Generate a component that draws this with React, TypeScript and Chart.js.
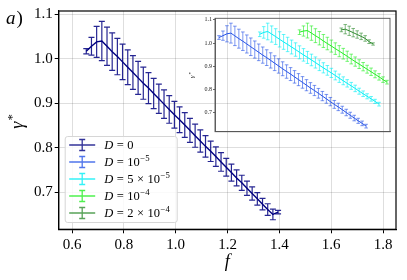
import React, { useEffect, useRef } from "react";
import { Chart, registerables } from "chart.js";
Chart.register(...registerables);

// ---------- data ----------
const seriesLabels = ["D = 0", "D = 10^−5", "D = 5 × 10^−5", "D = 10^−4", "D = 2 × 10^−4"];
const seriesColors = ["#000080", "#2452e6", "#00eef5", "#22ee22", "#2e8b2e"];

const mainXTicks = [0.6, 0.8, 1.0, 1.2, 1.4, 1.6, 1.8];
const mainYTicks = [0.7, 0.8, 0.9, 1.0, 1.1];
const insetYTicks = [0.7, 0.8, 0.9, 1.0, 1.1];
const mainXRange = [0.5486, 1.85];
const mainYRange = [0.6165, 1.1074];
const insetXRange = [0.62, 1.5];
const insetYRange = [0.617, 1.107];

// D = 0 (main panel)
const fD0 = [0.655, 0.675, 0.695, 0.715, 0.735, 0.755, 0.775, 0.795, 0.815, 0.835, 0.855, 0.875, 0.895, 0.915, 0.935, 0.955, 0.975, 0.995, 1.015, 1.035, 1.055, 1.075, 1.095, 1.115, 1.135, 1.155, 1.175, 1.195, 1.215, 1.235, 1.255, 1.275, 1.295, 1.315, 1.335, 1.355, 1.375, 1.395];
const gD0 = [1.017, 1.028, 1.038, 1.040, 1.028, 1.016, 1.005, 0.993, 0.981, 0.969, 0.957, 0.945, 0.934, 0.922, 0.910, 0.898, 0.886, 0.874, 0.863, 0.851, 0.839, 0.827, 0.815, 0.803, 0.792, 0.780, 0.768, 0.756, 0.744, 0.732, 0.721, 0.709, 0.697, 0.685, 0.673, 0.661, 0.650, 0.655];
const eD0 = [0.006, 0.020, 0.035, 0.044, 0.043, 0.042, 0.041, 0.040, 0.039, 0.038, 0.037, 0.036, 0.035, 0.034, 0.033, 0.032, 0.031, 0.030, 0.029, 0.028, 0.027, 0.026, 0.025, 0.024, 0.023, 0.022, 0.021, 0.020, 0.019, 0.018, 0.017, 0.016, 0.015, 0.014, 0.013, 0.013, 0.012, 0.004];

// D = 1e-5 (inset)
const fD1 = [0.64, 0.66, 0.68, 0.70, 0.72, 0.74, 0.76, 0.78, 0.80, 0.82, 0.84, 0.86, 0.88, 0.90, 0.92, 0.94, 0.96, 0.98, 1.00, 1.02, 1.04, 1.06, 1.08, 1.10, 1.12, 1.14, 1.16, 1.18, 1.20, 1.22, 1.24, 1.26, 1.28, 1.30, 1.32, 1.34, 1.36, 1.38];
const gD1 = [1.024, 1.032, 1.040, 1.043, 1.031, 1.019, 1.008, 0.996, 0.984, 0.972, 0.960, 0.948, 0.937, 0.925, 0.913, 0.901, 0.889, 0.877, 0.866, 0.854, 0.842, 0.830, 0.818, 0.806, 0.795, 0.783, 0.771, 0.759, 0.747, 0.735, 0.724, 0.712, 0.700, 0.688, 0.676, 0.664, 0.653, 0.641];
const eD1 = [0.008, 0.020, 0.035, 0.043, 0.042, 0.041, 0.040, 0.039, 0.038, 0.037, 0.036, 0.035, 0.034, 0.033, 0.032, 0.031, 0.030, 0.029, 0.028, 0.027, 0.026, 0.025, 0.024, 0.023, 0.022, 0.021, 0.020, 0.019, 0.018, 0.017, 0.016, 0.015, 0.014, 0.013, 0.012, 0.011, 0.010, 0.008];

// D = 5e-5 (inset)
const fD2 = [0.845, 0.865, 0.885, 0.905, 0.925, 0.945, 0.965, 0.985, 1.005, 1.025, 1.045, 1.065, 1.085, 1.105, 1.125, 1.145, 1.165, 1.185, 1.205, 1.225, 1.245, 1.265, 1.285, 1.305, 1.325, 1.345, 1.365, 1.385, 1.405, 1.425, 1.445];
const gD2 = [1.038, 1.046, 1.050, 1.039, 1.028, 1.016, 1.005, 0.994, 0.983, 0.972, 0.960, 0.949, 0.938, 0.927, 0.916, 0.904, 0.893, 0.882, 0.871, 0.860, 0.848, 0.837, 0.826, 0.815, 0.804, 0.792, 0.781, 0.770, 0.759, 0.748, 0.736];
const eD2 = [0.010, 0.025, 0.036, 0.035, 0.034, 0.033, 0.032, 0.031, 0.030, 0.029, 0.028, 0.027, 0.026, 0.025, 0.024, 0.023, 0.022, 0.021, 0.020, 0.019, 0.018, 0.017, 0.016, 0.015, 0.014, 0.013, 0.012, 0.011, 0.010, 0.009, 0.008];

// D = 1e-4 (inset)
const fD3 = [1.045, 1.065, 1.085, 1.105, 1.125, 1.145, 1.165, 1.185, 1.205, 1.225, 1.245, 1.265, 1.285, 1.305, 1.325, 1.345, 1.365, 1.385, 1.405, 1.425, 1.445, 1.465, 1.485];
const gD3 = [1.047, 1.052, 1.054, 1.043, 1.032, 1.021, 1.009, 0.998, 0.987, 0.976, 0.965, 0.954, 0.943, 0.931, 0.920, 0.909, 0.898, 0.887, 0.876, 0.865, 0.854, 0.842, 0.831];
const eD3 = [0.010, 0.022, 0.032, 0.031, 0.030, 0.029, 0.028, 0.027, 0.026, 0.025, 0.024, 0.023, 0.022, 0.021, 0.020, 0.019, 0.018, 0.017, 0.016, 0.015, 0.014, 0.012, 0.008];

// D = 2e-4 (inset)
const fD4 = [1.255, 1.275, 1.295, 1.315, 1.335, 1.355, 1.375, 1.395, 1.415];
const gD4 = [1.057, 1.060, 1.053, 1.045, 1.037, 1.029, 1.020, 1.006, 0.996];
const eD4 = [0.008, 0.020, 0.020, 0.018, 0.016, 0.014, 0.012, 0.008, 0.005];

// ---------- helpers ----------
const SERIF = "'Liberation Serif', 'DejaVu Serif', serif";

function pts(fs: number[], gs: number[]) {
  return fs.map((f, i) => ({ x: f, y: gs[i] }));
}

function hexA(hex: string, a: number) {
  const r = parseInt(hex.slice(1, 3), 16), g = parseInt(hex.slice(3, 5), 16), b = parseInt(hex.slice(5, 7), 16);
  return `rgba(${r},${g},${b},${a})`;
}

// draw "D = 5 × 10^−5" style math text; letters italic, part after ^ superscript
function drawMath(ctx: CanvasRenderingContext2D, text: string, x: number, y: number, size: number) {
  const [base, sup] = text.split("^");
  let cx = x;
  for (const ch of base) {
    const it = /[A-Za-z]/.test(ch);
    ctx.font = `${it ? "italic " : ""}${size}px ${SERIF}`;
    const w = ch === " " ? size * 0.28 : ctx.measureText(ch).width;
    if (ch !== " ") ctx.fillText(ch, cx, y);
    cx += w;
  }
  if (sup) {
    ctx.font = `${size * 0.7}px ${SERIF}`;
    ctx.fillText(sup, cx + 0.5, y - size * 0.42);
  }
}

const errorBarPlugin = {
  id: "errorBars",
  afterDatasetsDraw(chart: any) {
    const ctx = chart.ctx;
    const xs = chart.scales.x, ys = chart.scales.y;
    chart.data.datasets.forEach((ds: any) => {
      if (!ds.errors) return;
      ctx.save();
      ctx.strokeStyle = ds.errColor;
      ctx.lineWidth = ds.errWidth;
      const cap = ds.capHalf;
      ds.data.forEach((p: any, i: number) => {
        const e = ds.errors[i];
        const px = xs.getPixelForValue(p.x);
        const pt = ys.getPixelForValue(p.y + e);
        const pb = ys.getPixelForValue(p.y - e);
        ctx.beginPath();
        ctx.moveTo(px, pt); ctx.lineTo(px, pb);
        ctx.moveTo(px - cap, pt); ctx.lineTo(px + cap, pt);
        ctx.moveTo(px - cap, pb); ctx.lineTo(px + cap, pb);
        ctx.stroke();
      });
      ctx.restore();
    });
  },
};

const mainDecorPlugin = {
  id: "mainDecor",
  afterDraw(chart: any) {
    const ctx = chart.ctx as CanvasRenderingContext2D;
    const a = chart.chartArea;
    ctx.save();
    // frame
    ctx.strokeStyle = "#000";
    ctx.lineWidth = 1.2;
    ctx.strokeRect(a.left, a.top, a.right - a.left, a.bottom - a.top);

    // legend
    const bx = a.left + 6.5, by = a.top + 125.5, bw = 112, bh = 86;
    ctx.beginPath();
    const r = 2.5;
    ctx.moveTo(bx + r, by);
    ctx.arcTo(bx + bw, by, bx + bw, by + bh, r);
    ctx.arcTo(bx + bw, by + bh, bx, by + bh, r);
    ctx.arcTo(bx, by + bh, bx, by, r);
    ctx.arcTo(bx, by, bx + bw, by, r);
    ctx.closePath();
    ctx.fillStyle = "rgba(255,255,255,0.85)";
    ctx.fill();
    ctx.strokeStyle = "#d6d6d6";
    ctx.lineWidth = 1;
    ctx.stroke();
    seriesLabels.forEach((lab, i) => {
      const cy = by + 8.5 + i * 17;
      const col = seriesColors[i];
      ctx.strokeStyle = hexA(col, 0.8);
      ctx.lineWidth = 1.3;
      ctx.beginPath();
      ctx.moveTo(bx + 4, cy); ctx.lineTo(bx + 30, cy);
      ctx.moveTo(bx + 17, cy - 5.5); ctx.lineTo(bx + 17, cy + 5.5);
      ctx.moveTo(bx + 14, cy - 5.5); ctx.lineTo(bx + 20, cy - 5.5);
      ctx.moveTo(bx + 14, cy + 5.5); ctx.lineTo(bx + 20, cy + 5.5);
      ctx.stroke();
      ctx.fillStyle = "#000";
      ctx.textBaseline = "alphabetic";
      drawMath(ctx, lab, bx + 39, cy + 4.3, 12.5);
    });

    // axis titles and panel label
    ctx.fillStyle = "#000";
    ctx.textAlign = "center";
    ctx.textBaseline = "alphabetic";
    ctx.font = `italic 18px ${SERIF}`;
    ctx.fillText("f", (a.left + a.right) / 2, 267);
    // gamma*
    ctx.save();
    ctx.translate(23, (a.top + a.bottom) / 2 + 2);
    ctx.rotate(-Math.PI / 2);
    ctx.textAlign = "left";
    ctx.font = `italic 18px ${SERIF}`;
    const gw = ctx.measureText("γ").width;
    ctx.fillText("γ", -gw / 2 - 3, 0);
    ctx.font = `13px ${SERIF}`;
    ctx.fillText("*", gw / 2 - 2, -7);
    ctx.restore();
    // a)
    ctx.textAlign = "left";
    ctx.font = `italic 19px ${SERIF}`;
    ctx.fillText("a", 6, 24);
    const aw = ctx.measureText("a").width;
    ctx.font = `19px ${SERIF}`;
    ctx.fillText(")", 6 + aw + 1, 24);
    ctx.restore();
  },
};

const insetDecorPlugin = {
  id: "insetDecor",
  afterDraw(chart: any) {
    const ctx = chart.ctx as CanvasRenderingContext2D;
    const a = chart.chartArea;
    ctx.save();
    ctx.strokeStyle = "#555";
    ctx.lineWidth = 0.9;
    ctx.strokeRect(a.left, a.top, a.right - a.left, a.bottom - a.top);
    ctx.fillStyle = "#000";
    ctx.translate(a.left - 21, (a.top + a.bottom) / 2);
    ctx.rotate(-Math.PI / 2);
    ctx.textAlign = "left";
    ctx.font = `italic 6.5px ${SERIF}`;
    ctx.fillText("γ", -3, 0);
    ctx.font = `5px ${SERIF}`;
    ctx.fillText("*", 0.5, -2.5);
    ctx.restore();
  },
};

export default function App() {
  const mainRef = useRef<HTMLCanvasElement>(null);
  const insetRef = useRef<HTMLCanvasElement>(null);

  useEffect(() => {
    document.body.style.margin = "0";
    Chart.defaults.font.family = SERIF;
    Chart.defaults.color = "#000";

    const main = new Chart(mainRef.current!, {
      type: "line",
      data: {
        datasets: [
          {
            label: seriesLabels[0],
            data: pts(fD0, gD0),
            borderColor: seriesColors[0],
            borderWidth: 1.4,
            pointRadius: 0,
            tension: 0,
            errors: eD0,
            errColor: hexA(seriesColors[0], 0.85),
            errWidth: 1.2,
            capHalf: 3,
          } as any,
        ],
      },
      options: {
        animation: false,
        responsive: false,
        devicePixelRatio: 1,
        layout: { padding: { left: 0, top: 10.7, right: 11, bottom: 0 } },
        plugins: { legend: { display: false }, tooltip: { enabled: false } },
        scales: {
          x: {
            type: "linear",
            min: mainXRange[0],
            max: mainXRange[1],
            afterFit: (s: any) => { s.height = 50.7; },
            afterBuildTicks: (s: any) => { s.ticks = mainXTicks.map((v) => ({ value: v })); },
            ticks: {
              autoSkip: false,
              maxRotation: 0,
              padding: 3,
              font: { size: 15, family: SERIF },
              color: "#000",
              callback: (v: any) => Number(v).toFixed(1),
            },
            grid: { color: "rgba(0,0,0,0.13)", lineWidth: 1, tickColor: "#000", tickLength: 4, tickWidth: 1 },
            border: { color: "#000", width: 1.2 },
          },
          y: {
            type: "linear",
            min: mainYRange[0],
            max: mainYRange[1],
            afterFit: (s: any) => { s.width = 58.7; },
            afterBuildTicks: (s: any) => { s.ticks = mainYTicks.map((v) => ({ value: v })); },
            ticks: {
              autoSkip: false,
              padding: 2,
              font: { size: 15, family: SERIF },
              color: "#000",
              callback: (v: any) => Number(v).toFixed(1),
            },
            grid: { color: "rgba(0,0,0,0.13)", lineWidth: 1, tickColor: "#000", tickLength: 4, tickWidth: 1 },
            border: { color: "#000", width: 1.2 },
          },
        },
      },
      plugins: [errorBarPlugin, mainDecorPlugin],
    } as any);

    const insetSets = [
      [fD1, gD1, eD1],
      [fD2, gD2, eD2],
      [fD3, gD3, eD3],
      [fD4, gD4, eD4],
    ];
    const inset = new Chart(insetRef.current!, {
      type: "line",
      data: {
        datasets: insetSets.map(([fs, gs, es], k) => ({
          label: seriesLabels[k + 1],
          data: pts(fs, gs),
          borderColor: seriesColors[k + 1],
          borderWidth: 1,
          pointRadius: 0,
          tension: 0,
          errors: es,
          errColor: hexA(seriesColors[k + 1], 0.6),
          errWidth: 1,
          capHalf: 1.8,
        })) as any,
      },
      options: {
        animation: false,
        responsive: false,
        devicePixelRatio: 1,
        layout: { padding: { left: 0, top: 10.3, right: 10, bottom: 0 } },
        plugins: { legend: { display: false }, tooltip: { enabled: false } },
        scales: {
          x: {
            type: "linear",
            min: insetXRange[0],
            max: insetXRange[1],
            afterFit: (s: any) => { s.height = 6.3; },
            ticks: { display: false },
            grid: { display: false },
            border: { color: "#555", width: 0.9 },
          },
          y: {
            type: "linear",
            min: insetYRange[0],
            max: insetYRange[1],
            afterFit: (s: any) => { s.width = 35; },
            afterBuildTicks: (s: any) => { s.ticks = insetYTicks.map((v) => ({ value: v })); },
            ticks: {
              autoSkip: false,
              padding: 1,
              font: { size: 6, family: SERIF },
              color: "#222",
              callback: (v: any) => Number(v).toFixed(1),
            },
            grid: { drawOnChartArea: false, drawTicks: true, tickLength: 2, tickColor: "#444", tickWidth: 0.8 },
            border: { color: "#555", width: 0.9 },
          },
        },
      },
      plugins: [errorBarPlugin, insetDecorPlugin],
    } as any);

    return () => {
      main.destroy();
      inset.destroy();
    };
  }, []);

  return (
    <div style={{ position: "relative", width: 407, height: 280, background: "#fff" }}>
      <canvas ref={mainRef} width={407} height={280} style={{ position: "absolute", left: 0, top: 0 }} />
      <canvas ref={insetRef} width={220} height={130} style={{ position: "absolute", left: 180, top: 8 }} />
    </div>
  );
}
